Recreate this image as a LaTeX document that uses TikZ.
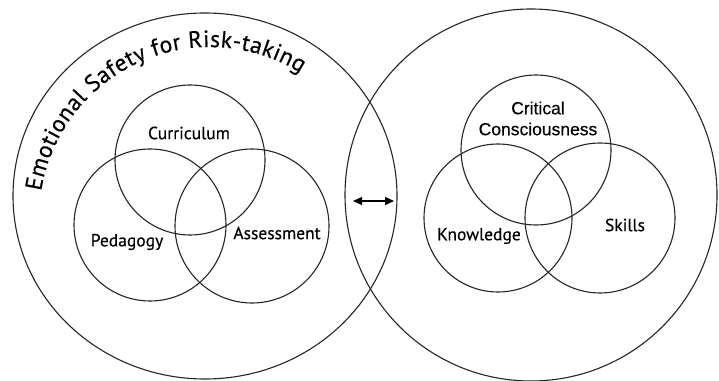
\documentclass[tikz,border=0pt]{standalone}
\usepackage{fontspec}
\setmainfont{PT Sans}
\newfontfamily\lblfont{PT Sans}[FakeBold=0.4]
\newfontfamily\arialish{Liberation Sans}[FakeBold=0.4]
\usetikzlibrary{shapes.geometric,arrows.meta,decorations.text}
\begin{document}
\begin{tikzpicture}[x=1pt,y=1pt,
  ring/.style={draw=black!85, line width=1.1pt, inner sep=0pt, fill=none},
  disc/.style={ring, circle, minimum size=#1},
  lbl/.style={font=\lblfont\fontsize{17.5}{19}\selectfont, inner sep=0pt},
  lblb/.style={font=\arialish\fontsize{17.5}{21}\selectfont, inner sep=0pt, align=center}]
\useasboundingbox (0,0) rectangle (719,380);
\fill[white] (0,0) rectangle (719,380);

% outer circles
\node[ring, ellipse, minimum width=384pt, minimum height=366pt] (env) at (205,184) {};
\node[disc=372pt] (out) at (531,185) {};

% left triad
\node[disc=150pt] (cur) at (190,220) {};
\node[disc=152pt] (ped) at (150,155) {};
\node[disc=154pt] (ass) at (252,154) {};

% right triad
\node[disc=150pt] (crit) at (536,230) {};
\node[disc=148pt] (know) at (498,162) {};
\node[disc=150pt] (skill) at (600,162) {};

% labels
\node[lbl] (tcur) at (189,247) {Curriculum};
\node[lbl] (tped) at (127,138) {Pedagogy};
\node[lbl] (tass) at (277,147) {Assessment};
\node[lblb] (tcrit) at (538,261.5) {Critical\\Consciousness};
\node[lbl] (tknow) at (479,144) {Knowledge};
\node[lbl] (tskill) at (625,155) {Skills};

% curved title
\path[decorate, decoration={text along path, text align=fit to path,
  text={|\lblfont\fontsize{23.5}{23.5}\selectfont|Emotional Safety for Risk-taking}}]
  (210,162) ++(171:171pt) arc[start angle=171, end angle=58, radius=171pt];

% link between the two spheres
\coordinate (la) at (353,179);
\coordinate (lb) at (394,179);
\draw[line width=1.1pt, {Triangle[length=9pt,width=8pt]}-{Triangle[length=9pt,width=8pt]}] (la) -- (lb);
\end{tikzpicture}
\end{document}
